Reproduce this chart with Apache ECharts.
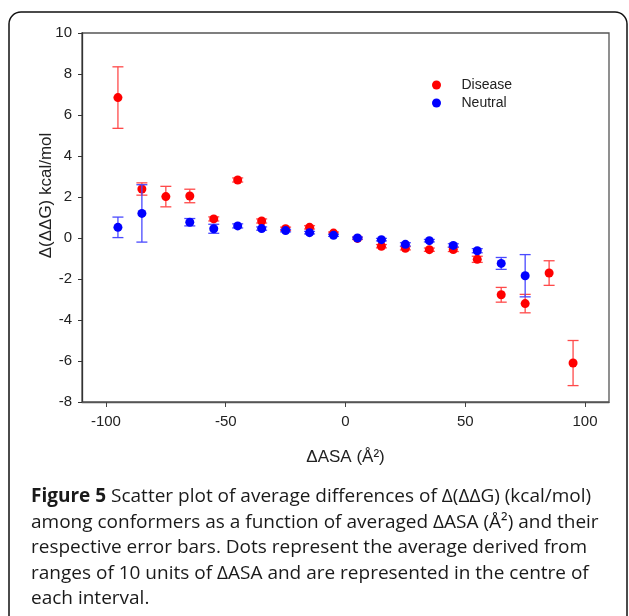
<!DOCTYPE html>
<html>
<head>
<meta charset="utf-8">
<script src="https://cdn.jsdelivr.net/npm/echarts@6/dist/echarts.min.js"></script>
<style>
  html, body { margin: 0; padding: 0; background: #fff; }
  #chart { width: 629px; height: 616px; }
</style>
</head>
<body>
<div id="chart"></div>
<script>
// bin centres of dASA (10 unit ranges)
var binCentres = [-95, -85, -75, -65, -55, -45, -35, -25, -15, -5, 5, 15, 25, 35, 45, 55, 65, 75, 85, 95];

// average d(ddG), null = no point in that bin
var diseaseMean = [6.85, 2.39, 2.02, 2.05, 0.93, 2.83, 0.83, 0.45, 0.52, 0.24, -0.02, -0.40, -0.50, -0.57, -0.56, -1.04, -2.77, -3.20, -1.71, -6.10];
var diseaseErr  = [1.50, 0.30, 0.50, 0.33, 0.10, 0.10, 0.10, 0.08, 0.08, 0.05, 0.05, 0.08, 0.08, 0.08, 0.10, 0.15, 0.36, 0.45, 0.60, 1.10];

var neutralMean = [0.52, 1.20, null, 0.77, 0.45, 0.59, 0.46, 0.36, 0.26, 0.13, 0.00, -0.08, -0.31, -0.13, -0.36, -0.62, -1.24, -1.84, null, null];
var neutralErr  = [0.50, 1.40, null, 0.18, 0.22, 0.10, 0.08, 0.06, 0.06, 0.05, 0.05, 0.06, 0.08, 0.06, 0.08, 0.10, 0.29, 1.03, null, null];

var xTicks = [-100, -50, 0, 50, 100];

var captionLines = [
  '{b|Figure 5} Scatter plot of average differences of \u0394(\u0394\u0394G) (kcal/mol)',
  'among conformers as a function of averaged \u0394ASA (\u00c5\u00b2) and their',
  'respective error bars. Dots represent the average derived from',
  'ranges of 10 units of \u0394ASA and are represented in the centre of',
  'each interval.'
];

function points(mean) {
  var out = [];
  binCentres.forEach(function (x, i) {
    if (mean[i] != null) out.push([x, mean[i]]);
  });
  return out;
}

function bars(mean, err) {
  var out = [];
  binCentres.forEach(function (x, i) {
    if (mean[i] != null) out.push([x, mean[i] - err[i], mean[i] + err[i]]);
  });
  return out;
}

// draws one error bar with caps
function errorBar(color) {
  return function (params, api) {
    var x = api.value(0);
    var bot = api.coord([x, api.value(1)]);
    var top = api.coord([x, api.value(2)]);
    var w = 5.5;
    var st = { stroke: color, lineWidth: 1.3 };
    return {
      type: 'group',
      children: [
        { type: 'line', shape: { x1: top[0], y1: top[1], x2: bot[0], y2: bot[1] }, style: st },
        { type: 'line', shape: { x1: top[0] - w, y1: top[1], x2: top[0] + w, y2: top[1] }, style: st },
        { type: 'line', shape: { x1: bot[0] - w, y1: bot[1], x2: bot[0] + w, y2: bot[1] }, style: st }
      ]
    };
  };
}

var chart = echarts.init(document.getElementById('chart'));

var option = {
  backgroundColor: '#fff',
  animation: false,
  title: {
    text: captionLines.join('\n'),
    left: 26,
    top: 479,
    textStyle: {
      fontFamily: 'Open Sans',
      fontSize: 19,
      fontWeight: 'normal',
      color: '#1a1a1a',
      lineHeight: 25.5,
      rich: {
        b: { fontFamily: 'Open Sans', fontSize: 19, fontWeight: 'bold', color: '#1a1a1a', lineHeight: 25.5 }
      }
    }
  },
  graphic: [
    {
      type: 'rect',
      shape: { x: 9, y: 12, width: 618, height: 640, r: 12 },
      style: { fill: 'none', stroke: '#111', lineWidth: 1.5 },
      silent: true
    }
  ],
  legend: {
    orient: 'vertical',
    left: 427,
    top: 73,
    itemWidth: 40,
    itemHeight: 9,
    itemGap: 4,
    textStyle: { fontFamily: 'Liberation Sans', fontSize: 14, color: '#222', lineHeight: 14 },
    data: [
      { name: 'Disease', icon: 'circle' },
      { name: 'Neutral', icon: 'circle' }
    ]
  },
  grid: {
    left: 82,
    top: 33,
    width: 527,
    height: 369,
    show: true,
    borderColor: '#555',
    borderWidth: 1.3
  },
  xAxis: {
    type: 'value',
    min: -110,
    max: 110,
    name: '\u0394ASA (\u00c5\u00b2)',
    nameLocation: 'middle',
    nameGap: 47,
    nameMoveOverlap: false,
    nameTextStyle: { fontFamily: 'Liberation Sans', fontSize: 17, color: '#222' },
    axisLine: { onZero: false, lineStyle: { color: '#555', width: 1.3 } },
    axisTick: { show: true, length: 5, customValues: xTicks, lineStyle: { color: '#444' } },
    axisLabel: { customValues: xTicks, margin: 12, fontFamily: 'Liberation Sans', fontSize: 15, color: '#222' },
    splitLine: { show: false }
  },
  yAxis: {
    type: 'value',
    min: -8,
    max: 10,
    interval: 2,
    name: '\u0394(\u0394\u0394G) kcal/mol',
    nameLocation: 'middle',
    nameGap: 27,
    nameMoveOverlap: false,
    nameTextStyle: { fontFamily: 'Liberation Sans', fontSize: 17, color: '#222', padding: [0, 0, 0, 44] },
    axisLine: { onZero: false, lineStyle: { color: '#333', width: 1.3 } },
    axisTick: { show: true, length: 4, lineStyle: { color: '#333' } },
    axisLabel: { margin: 10, fontFamily: 'Liberation Sans', fontSize: 15, color: '#222' },
    splitLine: { show: false }
  },
  series: [
    {
      name: 'Disease err',
      type: 'custom',
      renderItem: errorBar('#ff4a4a'),
      encode: { x: 0, y: [1, 2] },
      data: bars(diseaseMean, diseaseErr),
      z: 2
    },
    {
      name: 'Disease',
      type: 'scatter',
      symbolSize: 9,
      itemStyle: { color: '#ff0000', opacity: 1 },
      data: points(diseaseMean),
      z: 3
    },
    {
      name: 'Neutral err',
      type: 'custom',
      renderItem: errorBar('#4a4aff'),
      encode: { x: 0, y: [1, 2] },
      data: bars(neutralMean, neutralErr),
      z: 4
    },
    {
      name: 'Neutral',
      type: 'scatter',
      symbolSize: 9,
      itemStyle: { color: '#0000ff', opacity: 1 },
      data: points(neutralMean),
      z: 5
    }
  ]
};

chart.setOption(option);
</script>
</body>
</html>
